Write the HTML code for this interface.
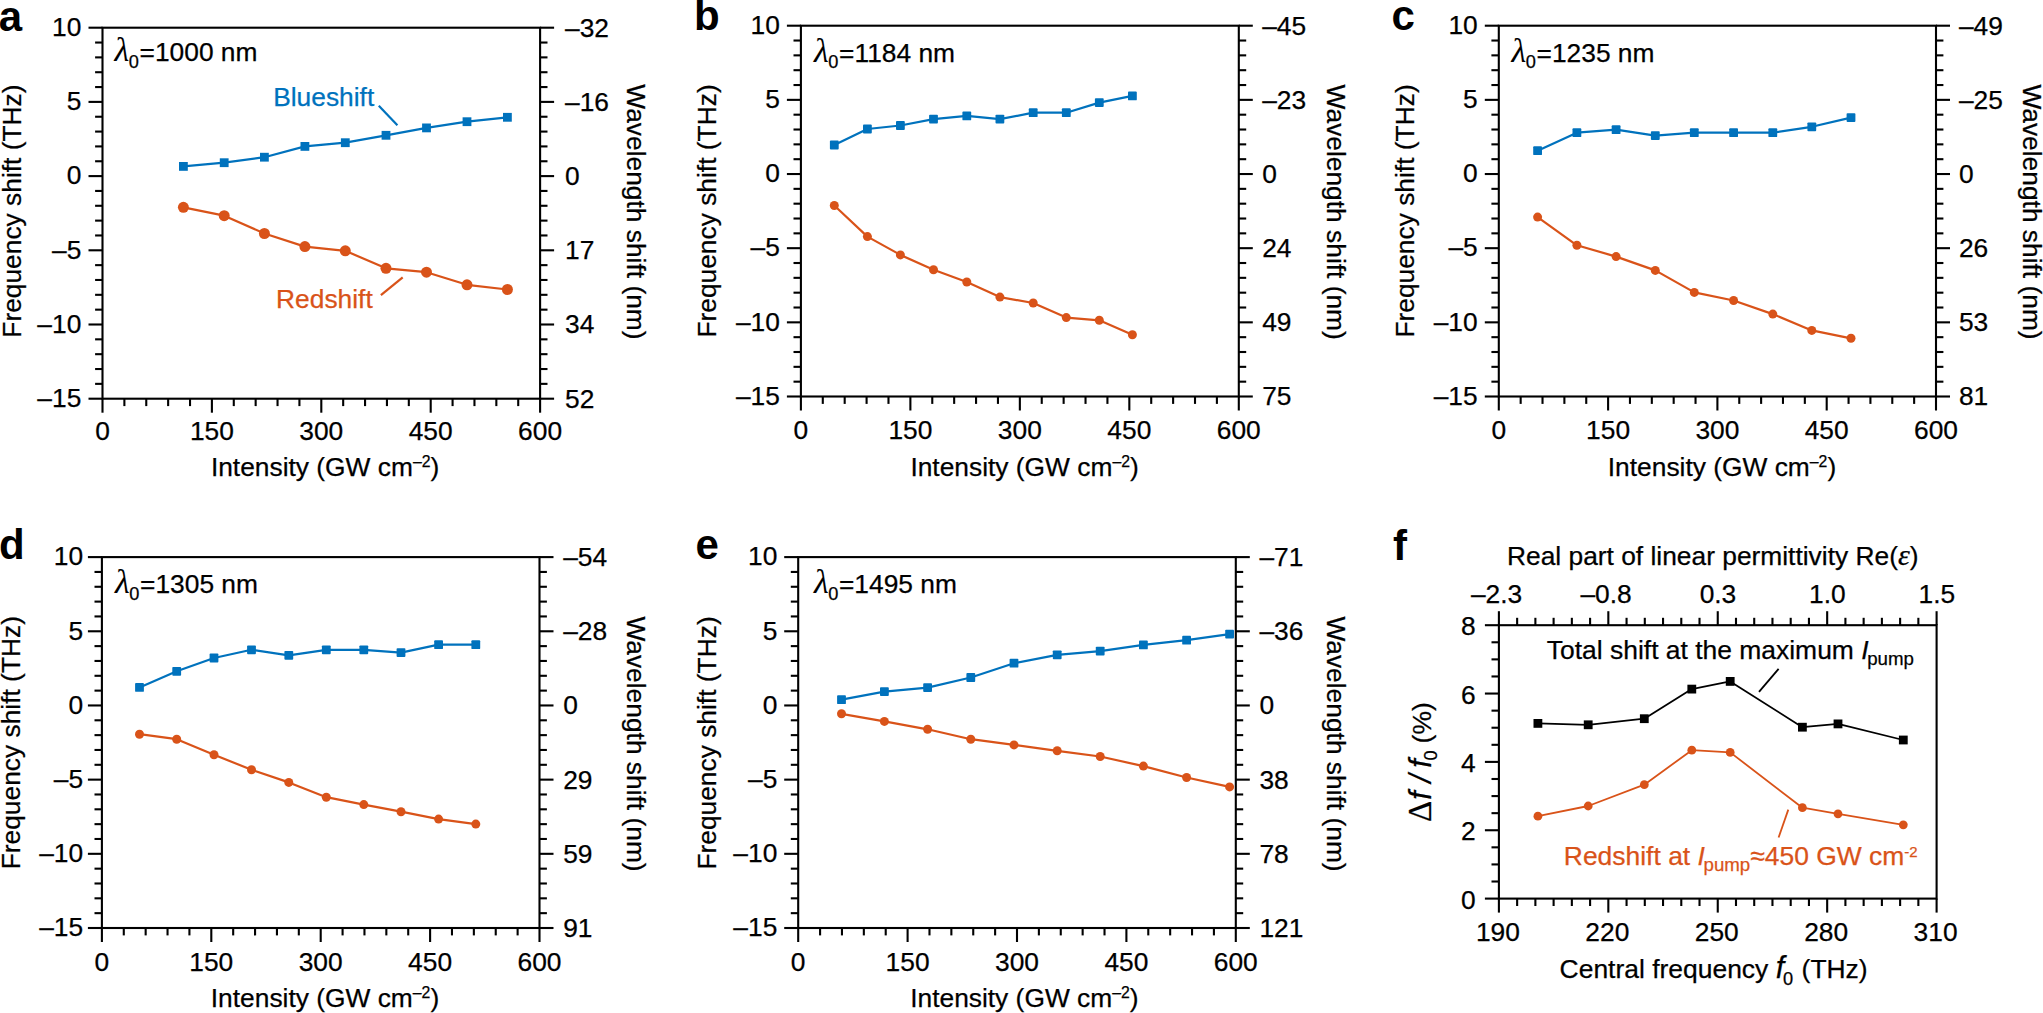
<!DOCTYPE html>
<html lang="en"><head><meta charset="utf-8"><title>Figure</title>
<style>html,body{margin:0;padding:0;background:#fff}svg{display:block}</style></head>
<body>
<svg width="2043" height="1013" viewBox="0 0 2043 1013" font-family='"Liberation Sans", sans-serif'>
<rect width="2043" height="1013" fill="#fff"/>
<rect x="102.50" y="27.70" width="437.60" height="371.00" fill="none" stroke="#000" stroke-width="2.1"/>
<line x1="88.50" y1="398.70" x2="102.50" y2="398.70" stroke="#000" stroke-width="2.1"/>
<line x1="540.10" y1="398.70" x2="554.10" y2="398.70" stroke="#000" stroke-width="2.1"/>
<line x1="95.10" y1="383.86" x2="102.50" y2="383.86" stroke="#000" stroke-width="2.1"/>
<line x1="540.10" y1="383.86" x2="547.50" y2="383.86" stroke="#000" stroke-width="2.1"/>
<line x1="95.10" y1="369.02" x2="102.50" y2="369.02" stroke="#000" stroke-width="2.1"/>
<line x1="540.10" y1="369.02" x2="547.50" y2="369.02" stroke="#000" stroke-width="2.1"/>
<line x1="95.10" y1="354.18" x2="102.50" y2="354.18" stroke="#000" stroke-width="2.1"/>
<line x1="540.10" y1="354.18" x2="547.50" y2="354.18" stroke="#000" stroke-width="2.1"/>
<line x1="95.10" y1="339.34" x2="102.50" y2="339.34" stroke="#000" stroke-width="2.1"/>
<line x1="540.10" y1="339.34" x2="547.50" y2="339.34" stroke="#000" stroke-width="2.1"/>
<line x1="88.50" y1="324.50" x2="102.50" y2="324.50" stroke="#000" stroke-width="2.1"/>
<line x1="540.10" y1="324.50" x2="554.10" y2="324.50" stroke="#000" stroke-width="2.1"/>
<line x1="95.10" y1="309.66" x2="102.50" y2="309.66" stroke="#000" stroke-width="2.1"/>
<line x1="540.10" y1="309.66" x2="547.50" y2="309.66" stroke="#000" stroke-width="2.1"/>
<line x1="95.10" y1="294.82" x2="102.50" y2="294.82" stroke="#000" stroke-width="2.1"/>
<line x1="540.10" y1="294.82" x2="547.50" y2="294.82" stroke="#000" stroke-width="2.1"/>
<line x1="95.10" y1="279.98" x2="102.50" y2="279.98" stroke="#000" stroke-width="2.1"/>
<line x1="540.10" y1="279.98" x2="547.50" y2="279.98" stroke="#000" stroke-width="2.1"/>
<line x1="95.10" y1="265.14" x2="102.50" y2="265.14" stroke="#000" stroke-width="2.1"/>
<line x1="540.10" y1="265.14" x2="547.50" y2="265.14" stroke="#000" stroke-width="2.1"/>
<line x1="88.50" y1="250.30" x2="102.50" y2="250.30" stroke="#000" stroke-width="2.1"/>
<line x1="540.10" y1="250.30" x2="554.10" y2="250.30" stroke="#000" stroke-width="2.1"/>
<line x1="95.10" y1="235.46" x2="102.50" y2="235.46" stroke="#000" stroke-width="2.1"/>
<line x1="540.10" y1="235.46" x2="547.50" y2="235.46" stroke="#000" stroke-width="2.1"/>
<line x1="95.10" y1="220.62" x2="102.50" y2="220.62" stroke="#000" stroke-width="2.1"/>
<line x1="540.10" y1="220.62" x2="547.50" y2="220.62" stroke="#000" stroke-width="2.1"/>
<line x1="95.10" y1="205.78" x2="102.50" y2="205.78" stroke="#000" stroke-width="2.1"/>
<line x1="540.10" y1="205.78" x2="547.50" y2="205.78" stroke="#000" stroke-width="2.1"/>
<line x1="95.10" y1="190.94" x2="102.50" y2="190.94" stroke="#000" stroke-width="2.1"/>
<line x1="540.10" y1="190.94" x2="547.50" y2="190.94" stroke="#000" stroke-width="2.1"/>
<line x1="88.50" y1="176.10" x2="102.50" y2="176.10" stroke="#000" stroke-width="2.1"/>
<line x1="540.10" y1="176.10" x2="554.10" y2="176.10" stroke="#000" stroke-width="2.1"/>
<line x1="95.10" y1="161.26" x2="102.50" y2="161.26" stroke="#000" stroke-width="2.1"/>
<line x1="540.10" y1="161.26" x2="547.50" y2="161.26" stroke="#000" stroke-width="2.1"/>
<line x1="95.10" y1="146.42" x2="102.50" y2="146.42" stroke="#000" stroke-width="2.1"/>
<line x1="540.10" y1="146.42" x2="547.50" y2="146.42" stroke="#000" stroke-width="2.1"/>
<line x1="95.10" y1="131.58" x2="102.50" y2="131.58" stroke="#000" stroke-width="2.1"/>
<line x1="540.10" y1="131.58" x2="547.50" y2="131.58" stroke="#000" stroke-width="2.1"/>
<line x1="95.10" y1="116.74" x2="102.50" y2="116.74" stroke="#000" stroke-width="2.1"/>
<line x1="540.10" y1="116.74" x2="547.50" y2="116.74" stroke="#000" stroke-width="2.1"/>
<line x1="88.50" y1="101.90" x2="102.50" y2="101.90" stroke="#000" stroke-width="2.1"/>
<line x1="540.10" y1="101.90" x2="554.10" y2="101.90" stroke="#000" stroke-width="2.1"/>
<line x1="95.10" y1="87.06" x2="102.50" y2="87.06" stroke="#000" stroke-width="2.1"/>
<line x1="540.10" y1="87.06" x2="547.50" y2="87.06" stroke="#000" stroke-width="2.1"/>
<line x1="95.10" y1="72.22" x2="102.50" y2="72.22" stroke="#000" stroke-width="2.1"/>
<line x1="540.10" y1="72.22" x2="547.50" y2="72.22" stroke="#000" stroke-width="2.1"/>
<line x1="95.10" y1="57.38" x2="102.50" y2="57.38" stroke="#000" stroke-width="2.1"/>
<line x1="540.10" y1="57.38" x2="547.50" y2="57.38" stroke="#000" stroke-width="2.1"/>
<line x1="95.10" y1="42.54" x2="102.50" y2="42.54" stroke="#000" stroke-width="2.1"/>
<line x1="540.10" y1="42.54" x2="547.50" y2="42.54" stroke="#000" stroke-width="2.1"/>
<line x1="88.50" y1="27.70" x2="102.50" y2="27.70" stroke="#000" stroke-width="2.1"/>
<line x1="540.10" y1="27.70" x2="554.10" y2="27.70" stroke="#000" stroke-width="2.1"/>
<line x1="102.50" y1="398.70" x2="102.50" y2="412.70" stroke="#000" stroke-width="2.1"/>
<line x1="124.38" y1="398.70" x2="124.38" y2="406.10" stroke="#000" stroke-width="2.1"/>
<line x1="146.26" y1="398.70" x2="146.26" y2="406.10" stroke="#000" stroke-width="2.1"/>
<line x1="168.14" y1="398.70" x2="168.14" y2="406.10" stroke="#000" stroke-width="2.1"/>
<line x1="190.02" y1="398.70" x2="190.02" y2="406.10" stroke="#000" stroke-width="2.1"/>
<line x1="211.90" y1="398.70" x2="211.90" y2="412.70" stroke="#000" stroke-width="2.1"/>
<line x1="233.78" y1="398.70" x2="233.78" y2="406.10" stroke="#000" stroke-width="2.1"/>
<line x1="255.66" y1="398.70" x2="255.66" y2="406.10" stroke="#000" stroke-width="2.1"/>
<line x1="277.54" y1="398.70" x2="277.54" y2="406.10" stroke="#000" stroke-width="2.1"/>
<line x1="299.42" y1="398.70" x2="299.42" y2="406.10" stroke="#000" stroke-width="2.1"/>
<line x1="321.30" y1="398.70" x2="321.30" y2="412.70" stroke="#000" stroke-width="2.1"/>
<line x1="343.18" y1="398.70" x2="343.18" y2="406.10" stroke="#000" stroke-width="2.1"/>
<line x1="365.06" y1="398.70" x2="365.06" y2="406.10" stroke="#000" stroke-width="2.1"/>
<line x1="386.94" y1="398.70" x2="386.94" y2="406.10" stroke="#000" stroke-width="2.1"/>
<line x1="408.82" y1="398.70" x2="408.82" y2="406.10" stroke="#000" stroke-width="2.1"/>
<line x1="430.70" y1="398.70" x2="430.70" y2="412.70" stroke="#000" stroke-width="2.1"/>
<line x1="452.58" y1="398.70" x2="452.58" y2="406.10" stroke="#000" stroke-width="2.1"/>
<line x1="474.46" y1="398.70" x2="474.46" y2="406.10" stroke="#000" stroke-width="2.1"/>
<line x1="496.34" y1="398.70" x2="496.34" y2="406.10" stroke="#000" stroke-width="2.1"/>
<line x1="518.22" y1="398.70" x2="518.22" y2="406.10" stroke="#000" stroke-width="2.1"/>
<line x1="540.10" y1="398.70" x2="540.10" y2="412.70" stroke="#000" stroke-width="2.1"/>
<text x="81.30" y="36.00" font-size="26.35" text-anchor="end" fill="#000" stroke="#000" stroke-width="0.25" >10</text>
<text x="81.30" y="110.20" font-size="26.35" text-anchor="end" fill="#000" stroke="#000" stroke-width="0.25" >5</text>
<text x="81.30" y="184.40" font-size="26.35" text-anchor="end" fill="#000" stroke="#000" stroke-width="0.25" >0</text>
<text x="81.30" y="258.60" font-size="26.35" text-anchor="end" fill="#000" stroke="#000" stroke-width="0.25" >–5</text>
<text x="81.30" y="332.80" font-size="26.35" text-anchor="end" fill="#000" stroke="#000" stroke-width="0.25" >–10</text>
<text x="81.30" y="407.00" font-size="26.35" text-anchor="end" fill="#000" stroke="#000" stroke-width="0.25" >–15</text>
<text x="565.00" y="36.60" font-size="26.35" text-anchor="start" fill="#000" stroke="#000" stroke-width="0.25" >–32</text>
<text x="565.00" y="110.80" font-size="26.35" text-anchor="start" fill="#000" stroke="#000" stroke-width="0.25" >–16</text>
<text x="565.00" y="185.00" font-size="26.35" text-anchor="start" fill="#000" stroke="#000" stroke-width="0.25" >0</text>
<text x="565.00" y="259.20" font-size="26.35" text-anchor="start" fill="#000" stroke="#000" stroke-width="0.25" >17</text>
<text x="565.00" y="333.40" font-size="26.35" text-anchor="start" fill="#000" stroke="#000" stroke-width="0.25" >34</text>
<text x="565.00" y="407.60" font-size="26.35" text-anchor="start" fill="#000" stroke="#000" stroke-width="0.25" >52</text>
<text x="102.50" y="440.20" font-size="26.35" text-anchor="middle" fill="#000" stroke="#000" stroke-width="0.25" >0</text>
<text x="211.90" y="440.20" font-size="26.35" text-anchor="middle" fill="#000" stroke="#000" stroke-width="0.25" >150</text>
<text x="321.30" y="440.20" font-size="26.35" text-anchor="middle" fill="#000" stroke="#000" stroke-width="0.25" >300</text>
<text x="430.70" y="440.20" font-size="26.35" text-anchor="middle" fill="#000" stroke="#000" stroke-width="0.25" >450</text>
<text x="540.10" y="440.20" font-size="26.35" text-anchor="middle" fill="#000" stroke="#000" stroke-width="0.25" >600</text>
<text x="210.90" y="475.50" font-size="26.35" text-anchor="start" fill="#000" stroke="#000" stroke-width="0.25" >Intensity (GW cm<tspan font-size="15.8" dy="-8.8">–2</tspan><tspan dy="8.8">)</tspan></text>
<text transform="translate(20.70,337.70) rotate(-90)" font-size="26.35" stroke="#000" stroke-width="0.25">Frequency shift (THz)</text>
<text transform="translate(627.20,84.30) rotate(90)" font-size="26.35" stroke="#000" stroke-width="0.25">Wavelength shift (nm)</text>
<text x="114.60" y="61.30" font-size="26.35" stroke="#000" stroke-width="0.25"><tspan font-family='"Liberation Serif", serif' font-style="italic" font-size="34" stroke-width="0">λ</tspan><tspan font-size="18.2" dy="6.6" dx="-0.5">0</tspan><tspan dy="-6.6" dx="0.6">=1000 nm</tspan></text>
<polyline points="183.4,166.4 224.2,162.7 264.4,157.2 304.9,146.4 345.3,142.7 386.0,135.3 426.5,127.9 467.0,121.7 507.4,117.3" fill="none" stroke="#0072bd" stroke-width="2.2" stroke-linejoin="round"/>
<rect x="179.00" y="162.00" width="8.8" height="8.8" rx="0" fill="#0072bd"/>
<rect x="219.80" y="158.30" width="8.8" height="8.8" rx="0" fill="#0072bd"/>
<rect x="260.00" y="152.80" width="8.8" height="8.8" rx="0" fill="#0072bd"/>
<rect x="300.50" y="142.00" width="8.8" height="8.8" rx="0" fill="#0072bd"/>
<rect x="340.90" y="138.30" width="8.8" height="8.8" rx="0" fill="#0072bd"/>
<rect x="381.60" y="130.90" width="8.8" height="8.8" rx="0" fill="#0072bd"/>
<rect x="422.10" y="123.50" width="8.8" height="8.8" rx="0" fill="#0072bd"/>
<rect x="462.60" y="117.30" width="8.8" height="8.8" rx="0" fill="#0072bd"/>
<rect x="503.00" y="112.90" width="8.8" height="8.8" rx="0" fill="#0072bd"/>
<polyline points="183.4,207.3 224.2,215.7 264.4,233.5 304.9,246.6 345.3,250.8 386.0,268.3 426.5,272.2 467.0,284.8 507.4,289.5" fill="none" stroke="#d95319" stroke-width="2.2" stroke-linejoin="round"/>
<circle cx="183.40" cy="207.30" r="5.5" fill="#d95319"/>
<circle cx="224.20" cy="215.70" r="5.5" fill="#d95319"/>
<circle cx="264.40" cy="233.50" r="5.5" fill="#d95319"/>
<circle cx="304.90" cy="246.60" r="5.5" fill="#d95319"/>
<circle cx="345.30" cy="250.80" r="5.5" fill="#d95319"/>
<circle cx="386.00" cy="268.30" r="5.5" fill="#d95319"/>
<circle cx="426.50" cy="272.20" r="5.5" fill="#d95319"/>
<circle cx="467.00" cy="284.80" r="5.5" fill="#d95319"/>
<circle cx="507.40" cy="289.50" r="5.5" fill="#d95319"/>
<rect x="800.90" y="25.70" width="437.90" height="370.80" fill="none" stroke="#000" stroke-width="2.1"/>
<line x1="786.90" y1="396.50" x2="800.90" y2="396.50" stroke="#000" stroke-width="2.1"/>
<line x1="1238.80" y1="396.50" x2="1252.80" y2="396.50" stroke="#000" stroke-width="2.1"/>
<line x1="793.50" y1="381.67" x2="800.90" y2="381.67" stroke="#000" stroke-width="2.1"/>
<line x1="1238.80" y1="381.67" x2="1246.20" y2="381.67" stroke="#000" stroke-width="2.1"/>
<line x1="793.50" y1="366.84" x2="800.90" y2="366.84" stroke="#000" stroke-width="2.1"/>
<line x1="1238.80" y1="366.84" x2="1246.20" y2="366.84" stroke="#000" stroke-width="2.1"/>
<line x1="793.50" y1="352.00" x2="800.90" y2="352.00" stroke="#000" stroke-width="2.1"/>
<line x1="1238.80" y1="352.00" x2="1246.20" y2="352.00" stroke="#000" stroke-width="2.1"/>
<line x1="793.50" y1="337.17" x2="800.90" y2="337.17" stroke="#000" stroke-width="2.1"/>
<line x1="1238.80" y1="337.17" x2="1246.20" y2="337.17" stroke="#000" stroke-width="2.1"/>
<line x1="786.90" y1="322.34" x2="800.90" y2="322.34" stroke="#000" stroke-width="2.1"/>
<line x1="1238.80" y1="322.34" x2="1252.80" y2="322.34" stroke="#000" stroke-width="2.1"/>
<line x1="793.50" y1="307.51" x2="800.90" y2="307.51" stroke="#000" stroke-width="2.1"/>
<line x1="1238.80" y1="307.51" x2="1246.20" y2="307.51" stroke="#000" stroke-width="2.1"/>
<line x1="793.50" y1="292.68" x2="800.90" y2="292.68" stroke="#000" stroke-width="2.1"/>
<line x1="1238.80" y1="292.68" x2="1246.20" y2="292.68" stroke="#000" stroke-width="2.1"/>
<line x1="793.50" y1="277.84" x2="800.90" y2="277.84" stroke="#000" stroke-width="2.1"/>
<line x1="1238.80" y1="277.84" x2="1246.20" y2="277.84" stroke="#000" stroke-width="2.1"/>
<line x1="793.50" y1="263.01" x2="800.90" y2="263.01" stroke="#000" stroke-width="2.1"/>
<line x1="1238.80" y1="263.01" x2="1246.20" y2="263.01" stroke="#000" stroke-width="2.1"/>
<line x1="786.90" y1="248.18" x2="800.90" y2="248.18" stroke="#000" stroke-width="2.1"/>
<line x1="1238.80" y1="248.18" x2="1252.80" y2="248.18" stroke="#000" stroke-width="2.1"/>
<line x1="793.50" y1="233.35" x2="800.90" y2="233.35" stroke="#000" stroke-width="2.1"/>
<line x1="1238.80" y1="233.35" x2="1246.20" y2="233.35" stroke="#000" stroke-width="2.1"/>
<line x1="793.50" y1="218.52" x2="800.90" y2="218.52" stroke="#000" stroke-width="2.1"/>
<line x1="1238.80" y1="218.52" x2="1246.20" y2="218.52" stroke="#000" stroke-width="2.1"/>
<line x1="793.50" y1="203.68" x2="800.90" y2="203.68" stroke="#000" stroke-width="2.1"/>
<line x1="1238.80" y1="203.68" x2="1246.20" y2="203.68" stroke="#000" stroke-width="2.1"/>
<line x1="793.50" y1="188.85" x2="800.90" y2="188.85" stroke="#000" stroke-width="2.1"/>
<line x1="1238.80" y1="188.85" x2="1246.20" y2="188.85" stroke="#000" stroke-width="2.1"/>
<line x1="786.90" y1="174.02" x2="800.90" y2="174.02" stroke="#000" stroke-width="2.1"/>
<line x1="1238.80" y1="174.02" x2="1252.80" y2="174.02" stroke="#000" stroke-width="2.1"/>
<line x1="793.50" y1="159.19" x2="800.90" y2="159.19" stroke="#000" stroke-width="2.1"/>
<line x1="1238.80" y1="159.19" x2="1246.20" y2="159.19" stroke="#000" stroke-width="2.1"/>
<line x1="793.50" y1="144.36" x2="800.90" y2="144.36" stroke="#000" stroke-width="2.1"/>
<line x1="1238.80" y1="144.36" x2="1246.20" y2="144.36" stroke="#000" stroke-width="2.1"/>
<line x1="793.50" y1="129.52" x2="800.90" y2="129.52" stroke="#000" stroke-width="2.1"/>
<line x1="1238.80" y1="129.52" x2="1246.20" y2="129.52" stroke="#000" stroke-width="2.1"/>
<line x1="793.50" y1="114.69" x2="800.90" y2="114.69" stroke="#000" stroke-width="2.1"/>
<line x1="1238.80" y1="114.69" x2="1246.20" y2="114.69" stroke="#000" stroke-width="2.1"/>
<line x1="786.90" y1="99.86" x2="800.90" y2="99.86" stroke="#000" stroke-width="2.1"/>
<line x1="1238.80" y1="99.86" x2="1252.80" y2="99.86" stroke="#000" stroke-width="2.1"/>
<line x1="793.50" y1="85.03" x2="800.90" y2="85.03" stroke="#000" stroke-width="2.1"/>
<line x1="1238.80" y1="85.03" x2="1246.20" y2="85.03" stroke="#000" stroke-width="2.1"/>
<line x1="793.50" y1="70.20" x2="800.90" y2="70.20" stroke="#000" stroke-width="2.1"/>
<line x1="1238.80" y1="70.20" x2="1246.20" y2="70.20" stroke="#000" stroke-width="2.1"/>
<line x1="793.50" y1="55.36" x2="800.90" y2="55.36" stroke="#000" stroke-width="2.1"/>
<line x1="1238.80" y1="55.36" x2="1246.20" y2="55.36" stroke="#000" stroke-width="2.1"/>
<line x1="793.50" y1="40.53" x2="800.90" y2="40.53" stroke="#000" stroke-width="2.1"/>
<line x1="1238.80" y1="40.53" x2="1246.20" y2="40.53" stroke="#000" stroke-width="2.1"/>
<line x1="786.90" y1="25.70" x2="800.90" y2="25.70" stroke="#000" stroke-width="2.1"/>
<line x1="1238.80" y1="25.70" x2="1252.80" y2="25.70" stroke="#000" stroke-width="2.1"/>
<line x1="800.90" y1="396.50" x2="800.90" y2="410.50" stroke="#000" stroke-width="2.1"/>
<line x1="822.79" y1="396.50" x2="822.79" y2="403.90" stroke="#000" stroke-width="2.1"/>
<line x1="844.69" y1="396.50" x2="844.69" y2="403.90" stroke="#000" stroke-width="2.1"/>
<line x1="866.59" y1="396.50" x2="866.59" y2="403.90" stroke="#000" stroke-width="2.1"/>
<line x1="888.48" y1="396.50" x2="888.48" y2="403.90" stroke="#000" stroke-width="2.1"/>
<line x1="910.38" y1="396.50" x2="910.38" y2="410.50" stroke="#000" stroke-width="2.1"/>
<line x1="932.27" y1="396.50" x2="932.27" y2="403.90" stroke="#000" stroke-width="2.1"/>
<line x1="954.16" y1="396.50" x2="954.16" y2="403.90" stroke="#000" stroke-width="2.1"/>
<line x1="976.06" y1="396.50" x2="976.06" y2="403.90" stroke="#000" stroke-width="2.1"/>
<line x1="997.95" y1="396.50" x2="997.95" y2="403.90" stroke="#000" stroke-width="2.1"/>
<line x1="1019.85" y1="396.50" x2="1019.85" y2="410.50" stroke="#000" stroke-width="2.1"/>
<line x1="1041.74" y1="396.50" x2="1041.74" y2="403.90" stroke="#000" stroke-width="2.1"/>
<line x1="1063.64" y1="396.50" x2="1063.64" y2="403.90" stroke="#000" stroke-width="2.1"/>
<line x1="1085.53" y1="396.50" x2="1085.53" y2="403.90" stroke="#000" stroke-width="2.1"/>
<line x1="1107.43" y1="396.50" x2="1107.43" y2="403.90" stroke="#000" stroke-width="2.1"/>
<line x1="1129.33" y1="396.50" x2="1129.33" y2="410.50" stroke="#000" stroke-width="2.1"/>
<line x1="1151.22" y1="396.50" x2="1151.22" y2="403.90" stroke="#000" stroke-width="2.1"/>
<line x1="1173.12" y1="396.50" x2="1173.12" y2="403.90" stroke="#000" stroke-width="2.1"/>
<line x1="1195.01" y1="396.50" x2="1195.01" y2="403.90" stroke="#000" stroke-width="2.1"/>
<line x1="1216.90" y1="396.50" x2="1216.90" y2="403.90" stroke="#000" stroke-width="2.1"/>
<line x1="1238.80" y1="396.50" x2="1238.80" y2="410.50" stroke="#000" stroke-width="2.1"/>
<text x="779.90" y="34.00" font-size="26.35" text-anchor="end" fill="#000" stroke="#000" stroke-width="0.25" >10</text>
<text x="779.90" y="108.16" font-size="26.35" text-anchor="end" fill="#000" stroke="#000" stroke-width="0.25" >5</text>
<text x="779.90" y="182.32" font-size="26.35" text-anchor="end" fill="#000" stroke="#000" stroke-width="0.25" >0</text>
<text x="779.90" y="256.48" font-size="26.35" text-anchor="end" fill="#000" stroke="#000" stroke-width="0.25" >–5</text>
<text x="779.90" y="330.64" font-size="26.35" text-anchor="end" fill="#000" stroke="#000" stroke-width="0.25" >–10</text>
<text x="779.90" y="404.80" font-size="26.35" text-anchor="end" fill="#000" stroke="#000" stroke-width="0.25" >–15</text>
<text x="1262.20" y="34.60" font-size="26.35" text-anchor="start" fill="#000" stroke="#000" stroke-width="0.25" >–45</text>
<text x="1262.20" y="108.76" font-size="26.35" text-anchor="start" fill="#000" stroke="#000" stroke-width="0.25" >–23</text>
<text x="1262.20" y="182.92" font-size="26.35" text-anchor="start" fill="#000" stroke="#000" stroke-width="0.25" >0</text>
<text x="1262.20" y="257.08" font-size="26.35" text-anchor="start" fill="#000" stroke="#000" stroke-width="0.25" >24</text>
<text x="1262.20" y="331.24" font-size="26.35" text-anchor="start" fill="#000" stroke="#000" stroke-width="0.25" >49</text>
<text x="1262.20" y="405.40" font-size="26.35" text-anchor="start" fill="#000" stroke="#000" stroke-width="0.25" >75</text>
<text x="800.90" y="438.90" font-size="26.35" text-anchor="middle" fill="#000" stroke="#000" stroke-width="0.25" >0</text>
<text x="910.38" y="438.90" font-size="26.35" text-anchor="middle" fill="#000" stroke="#000" stroke-width="0.25" >150</text>
<text x="1019.85" y="438.90" font-size="26.35" text-anchor="middle" fill="#000" stroke="#000" stroke-width="0.25" >300</text>
<text x="1129.33" y="438.90" font-size="26.35" text-anchor="middle" fill="#000" stroke="#000" stroke-width="0.25" >450</text>
<text x="1238.80" y="438.90" font-size="26.35" text-anchor="middle" fill="#000" stroke="#000" stroke-width="0.25" >600</text>
<text x="910.40" y="475.50" font-size="26.35" text-anchor="start" fill="#000" stroke="#000" stroke-width="0.25" >Intensity (GW cm<tspan font-size="15.8" dy="-8.8">–2</tspan><tspan dy="8.8">)</tspan></text>
<text transform="translate(715.80,337.60) rotate(-90)" font-size="26.35" stroke="#000" stroke-width="0.25">Frequency shift (THz)</text>
<text transform="translate(1326.90,84.60) rotate(90)" font-size="26.35" stroke="#000" stroke-width="0.25">Wavelength shift (nm)</text>
<text x="814.10" y="61.70" font-size="26.35" stroke="#000" stroke-width="0.25"><tspan font-family='"Liberation Serif", serif' font-style="italic" font-size="34" stroke-width="0">λ</tspan><tspan font-size="18.2" dy="6.6" dx="-0.5">0</tspan><tspan dy="-6.6" dx="0.6">=1184 nm</tspan></text>
<polyline points="834.3,145.0 867.4,129.0 900.4,125.5 933.5,119.1 966.8,115.9 999.9,119.1 1033.2,112.7 1066.3,112.7 1099.3,102.6 1132.4,95.9" fill="none" stroke="#0072bd" stroke-width="2.2" stroke-linejoin="round"/>
<rect x="829.90" y="140.60" width="8.8" height="8.8" rx="0.9" fill="#0072bd"/>
<rect x="863.00" y="124.60" width="8.8" height="8.8" rx="0.9" fill="#0072bd"/>
<rect x="896.00" y="121.10" width="8.8" height="8.8" rx="0.9" fill="#0072bd"/>
<rect x="929.10" y="114.70" width="8.8" height="8.8" rx="0.9" fill="#0072bd"/>
<rect x="962.40" y="111.50" width="8.8" height="8.8" rx="0.9" fill="#0072bd"/>
<rect x="995.50" y="114.70" width="8.8" height="8.8" rx="0.9" fill="#0072bd"/>
<rect x="1028.80" y="108.30" width="8.8" height="8.8" rx="0.9" fill="#0072bd"/>
<rect x="1061.90" y="108.30" width="8.8" height="8.8" rx="0.9" fill="#0072bd"/>
<rect x="1094.90" y="98.20" width="8.8" height="8.8" rx="0.9" fill="#0072bd"/>
<rect x="1128.00" y="91.50" width="8.8" height="8.8" rx="0.9" fill="#0072bd"/>
<polyline points="834.3,205.5 867.4,236.6 900.4,254.9 933.5,269.7 966.8,282.0 999.9,297.1 1033.2,303.0 1066.3,317.6 1099.3,320.3 1132.4,334.8" fill="none" stroke="#d95319" stroke-width="2.2" stroke-linejoin="round"/>
<circle cx="834.30" cy="205.50" r="4.5" fill="#d95319"/>
<circle cx="867.40" cy="236.60" r="4.5" fill="#d95319"/>
<circle cx="900.40" cy="254.90" r="4.5" fill="#d95319"/>
<circle cx="933.50" cy="269.70" r="4.5" fill="#d95319"/>
<circle cx="966.80" cy="282.00" r="4.5" fill="#d95319"/>
<circle cx="999.90" cy="297.10" r="4.5" fill="#d95319"/>
<circle cx="1033.20" cy="303.00" r="4.5" fill="#d95319"/>
<circle cx="1066.30" cy="317.60" r="4.5" fill="#d95319"/>
<circle cx="1099.30" cy="320.30" r="4.5" fill="#d95319"/>
<circle cx="1132.40" cy="334.80" r="4.5" fill="#d95319"/>
<rect x="1498.80" y="25.70" width="437.20" height="370.80" fill="none" stroke="#000" stroke-width="2.1"/>
<line x1="1484.80" y1="396.50" x2="1498.80" y2="396.50" stroke="#000" stroke-width="2.1"/>
<line x1="1936.00" y1="396.50" x2="1950.00" y2="396.50" stroke="#000" stroke-width="2.1"/>
<line x1="1491.40" y1="381.67" x2="1498.80" y2="381.67" stroke="#000" stroke-width="2.1"/>
<line x1="1936.00" y1="381.67" x2="1943.40" y2="381.67" stroke="#000" stroke-width="2.1"/>
<line x1="1491.40" y1="366.84" x2="1498.80" y2="366.84" stroke="#000" stroke-width="2.1"/>
<line x1="1936.00" y1="366.84" x2="1943.40" y2="366.84" stroke="#000" stroke-width="2.1"/>
<line x1="1491.40" y1="352.00" x2="1498.80" y2="352.00" stroke="#000" stroke-width="2.1"/>
<line x1="1936.00" y1="352.00" x2="1943.40" y2="352.00" stroke="#000" stroke-width="2.1"/>
<line x1="1491.40" y1="337.17" x2="1498.80" y2="337.17" stroke="#000" stroke-width="2.1"/>
<line x1="1936.00" y1="337.17" x2="1943.40" y2="337.17" stroke="#000" stroke-width="2.1"/>
<line x1="1484.80" y1="322.34" x2="1498.80" y2="322.34" stroke="#000" stroke-width="2.1"/>
<line x1="1936.00" y1="322.34" x2="1950.00" y2="322.34" stroke="#000" stroke-width="2.1"/>
<line x1="1491.40" y1="307.51" x2="1498.80" y2="307.51" stroke="#000" stroke-width="2.1"/>
<line x1="1936.00" y1="307.51" x2="1943.40" y2="307.51" stroke="#000" stroke-width="2.1"/>
<line x1="1491.40" y1="292.68" x2="1498.80" y2="292.68" stroke="#000" stroke-width="2.1"/>
<line x1="1936.00" y1="292.68" x2="1943.40" y2="292.68" stroke="#000" stroke-width="2.1"/>
<line x1="1491.40" y1="277.84" x2="1498.80" y2="277.84" stroke="#000" stroke-width="2.1"/>
<line x1="1936.00" y1="277.84" x2="1943.40" y2="277.84" stroke="#000" stroke-width="2.1"/>
<line x1="1491.40" y1="263.01" x2="1498.80" y2="263.01" stroke="#000" stroke-width="2.1"/>
<line x1="1936.00" y1="263.01" x2="1943.40" y2="263.01" stroke="#000" stroke-width="2.1"/>
<line x1="1484.80" y1="248.18" x2="1498.80" y2="248.18" stroke="#000" stroke-width="2.1"/>
<line x1="1936.00" y1="248.18" x2="1950.00" y2="248.18" stroke="#000" stroke-width="2.1"/>
<line x1="1491.40" y1="233.35" x2="1498.80" y2="233.35" stroke="#000" stroke-width="2.1"/>
<line x1="1936.00" y1="233.35" x2="1943.40" y2="233.35" stroke="#000" stroke-width="2.1"/>
<line x1="1491.40" y1="218.52" x2="1498.80" y2="218.52" stroke="#000" stroke-width="2.1"/>
<line x1="1936.00" y1="218.52" x2="1943.40" y2="218.52" stroke="#000" stroke-width="2.1"/>
<line x1="1491.40" y1="203.68" x2="1498.80" y2="203.68" stroke="#000" stroke-width="2.1"/>
<line x1="1936.00" y1="203.68" x2="1943.40" y2="203.68" stroke="#000" stroke-width="2.1"/>
<line x1="1491.40" y1="188.85" x2="1498.80" y2="188.85" stroke="#000" stroke-width="2.1"/>
<line x1="1936.00" y1="188.85" x2="1943.40" y2="188.85" stroke="#000" stroke-width="2.1"/>
<line x1="1484.80" y1="174.02" x2="1498.80" y2="174.02" stroke="#000" stroke-width="2.1"/>
<line x1="1936.00" y1="174.02" x2="1950.00" y2="174.02" stroke="#000" stroke-width="2.1"/>
<line x1="1491.40" y1="159.19" x2="1498.80" y2="159.19" stroke="#000" stroke-width="2.1"/>
<line x1="1936.00" y1="159.19" x2="1943.40" y2="159.19" stroke="#000" stroke-width="2.1"/>
<line x1="1491.40" y1="144.36" x2="1498.80" y2="144.36" stroke="#000" stroke-width="2.1"/>
<line x1="1936.00" y1="144.36" x2="1943.40" y2="144.36" stroke="#000" stroke-width="2.1"/>
<line x1="1491.40" y1="129.52" x2="1498.80" y2="129.52" stroke="#000" stroke-width="2.1"/>
<line x1="1936.00" y1="129.52" x2="1943.40" y2="129.52" stroke="#000" stroke-width="2.1"/>
<line x1="1491.40" y1="114.69" x2="1498.80" y2="114.69" stroke="#000" stroke-width="2.1"/>
<line x1="1936.00" y1="114.69" x2="1943.40" y2="114.69" stroke="#000" stroke-width="2.1"/>
<line x1="1484.80" y1="99.86" x2="1498.80" y2="99.86" stroke="#000" stroke-width="2.1"/>
<line x1="1936.00" y1="99.86" x2="1950.00" y2="99.86" stroke="#000" stroke-width="2.1"/>
<line x1="1491.40" y1="85.03" x2="1498.80" y2="85.03" stroke="#000" stroke-width="2.1"/>
<line x1="1936.00" y1="85.03" x2="1943.40" y2="85.03" stroke="#000" stroke-width="2.1"/>
<line x1="1491.40" y1="70.20" x2="1498.80" y2="70.20" stroke="#000" stroke-width="2.1"/>
<line x1="1936.00" y1="70.20" x2="1943.40" y2="70.20" stroke="#000" stroke-width="2.1"/>
<line x1="1491.40" y1="55.36" x2="1498.80" y2="55.36" stroke="#000" stroke-width="2.1"/>
<line x1="1936.00" y1="55.36" x2="1943.40" y2="55.36" stroke="#000" stroke-width="2.1"/>
<line x1="1491.40" y1="40.53" x2="1498.80" y2="40.53" stroke="#000" stroke-width="2.1"/>
<line x1="1936.00" y1="40.53" x2="1943.40" y2="40.53" stroke="#000" stroke-width="2.1"/>
<line x1="1484.80" y1="25.70" x2="1498.80" y2="25.70" stroke="#000" stroke-width="2.1"/>
<line x1="1936.00" y1="25.70" x2="1950.00" y2="25.70" stroke="#000" stroke-width="2.1"/>
<line x1="1498.80" y1="396.50" x2="1498.80" y2="410.50" stroke="#000" stroke-width="2.1"/>
<line x1="1520.66" y1="396.50" x2="1520.66" y2="403.90" stroke="#000" stroke-width="2.1"/>
<line x1="1542.52" y1="396.50" x2="1542.52" y2="403.90" stroke="#000" stroke-width="2.1"/>
<line x1="1564.38" y1="396.50" x2="1564.38" y2="403.90" stroke="#000" stroke-width="2.1"/>
<line x1="1586.24" y1="396.50" x2="1586.24" y2="403.90" stroke="#000" stroke-width="2.1"/>
<line x1="1608.10" y1="396.50" x2="1608.10" y2="410.50" stroke="#000" stroke-width="2.1"/>
<line x1="1629.96" y1="396.50" x2="1629.96" y2="403.90" stroke="#000" stroke-width="2.1"/>
<line x1="1651.82" y1="396.50" x2="1651.82" y2="403.90" stroke="#000" stroke-width="2.1"/>
<line x1="1673.68" y1="396.50" x2="1673.68" y2="403.90" stroke="#000" stroke-width="2.1"/>
<line x1="1695.54" y1="396.50" x2="1695.54" y2="403.90" stroke="#000" stroke-width="2.1"/>
<line x1="1717.40" y1="396.50" x2="1717.40" y2="410.50" stroke="#000" stroke-width="2.1"/>
<line x1="1739.26" y1="396.50" x2="1739.26" y2="403.90" stroke="#000" stroke-width="2.1"/>
<line x1="1761.12" y1="396.50" x2="1761.12" y2="403.90" stroke="#000" stroke-width="2.1"/>
<line x1="1782.98" y1="396.50" x2="1782.98" y2="403.90" stroke="#000" stroke-width="2.1"/>
<line x1="1804.84" y1="396.50" x2="1804.84" y2="403.90" stroke="#000" stroke-width="2.1"/>
<line x1="1826.70" y1="396.50" x2="1826.70" y2="410.50" stroke="#000" stroke-width="2.1"/>
<line x1="1848.56" y1="396.50" x2="1848.56" y2="403.90" stroke="#000" stroke-width="2.1"/>
<line x1="1870.42" y1="396.50" x2="1870.42" y2="403.90" stroke="#000" stroke-width="2.1"/>
<line x1="1892.28" y1="396.50" x2="1892.28" y2="403.90" stroke="#000" stroke-width="2.1"/>
<line x1="1914.14" y1="396.50" x2="1914.14" y2="403.90" stroke="#000" stroke-width="2.1"/>
<line x1="1936.00" y1="396.50" x2="1936.00" y2="410.50" stroke="#000" stroke-width="2.1"/>
<text x="1477.70" y="34.00" font-size="26.35" text-anchor="end" fill="#000" stroke="#000" stroke-width="0.25" >10</text>
<text x="1477.70" y="108.16" font-size="26.35" text-anchor="end" fill="#000" stroke="#000" stroke-width="0.25" >5</text>
<text x="1477.70" y="182.32" font-size="26.35" text-anchor="end" fill="#000" stroke="#000" stroke-width="0.25" >0</text>
<text x="1477.70" y="256.48" font-size="26.35" text-anchor="end" fill="#000" stroke="#000" stroke-width="0.25" >–5</text>
<text x="1477.70" y="330.64" font-size="26.35" text-anchor="end" fill="#000" stroke="#000" stroke-width="0.25" >–10</text>
<text x="1477.70" y="404.80" font-size="26.35" text-anchor="end" fill="#000" stroke="#000" stroke-width="0.25" >–15</text>
<text x="1958.90" y="34.60" font-size="26.35" text-anchor="start" fill="#000" stroke="#000" stroke-width="0.25" >–49</text>
<text x="1958.90" y="108.76" font-size="26.35" text-anchor="start" fill="#000" stroke="#000" stroke-width="0.25" >–25</text>
<text x="1958.90" y="182.92" font-size="26.35" text-anchor="start" fill="#000" stroke="#000" stroke-width="0.25" >0</text>
<text x="1958.90" y="257.08" font-size="26.35" text-anchor="start" fill="#000" stroke="#000" stroke-width="0.25" >26</text>
<text x="1958.90" y="331.24" font-size="26.35" text-anchor="start" fill="#000" stroke="#000" stroke-width="0.25" >53</text>
<text x="1958.90" y="405.40" font-size="26.35" text-anchor="start" fill="#000" stroke="#000" stroke-width="0.25" >81</text>
<text x="1498.80" y="438.90" font-size="26.35" text-anchor="middle" fill="#000" stroke="#000" stroke-width="0.25" >0</text>
<text x="1608.10" y="438.90" font-size="26.35" text-anchor="middle" fill="#000" stroke="#000" stroke-width="0.25" >150</text>
<text x="1717.40" y="438.90" font-size="26.35" text-anchor="middle" fill="#000" stroke="#000" stroke-width="0.25" >300</text>
<text x="1826.70" y="438.90" font-size="26.35" text-anchor="middle" fill="#000" stroke="#000" stroke-width="0.25" >450</text>
<text x="1936.00" y="438.90" font-size="26.35" text-anchor="middle" fill="#000" stroke="#000" stroke-width="0.25" >600</text>
<text x="1607.80" y="475.50" font-size="26.35" text-anchor="start" fill="#000" stroke="#000" stroke-width="0.25" >Intensity (GW cm<tspan font-size="15.8" dy="-8.8">–2</tspan><tspan dy="8.8">)</tspan></text>
<text transform="translate(1413.80,337.60) rotate(-90)" font-size="26.35" stroke="#000" stroke-width="0.25">Frequency shift (THz)</text>
<text transform="translate(2023.10,84.40) rotate(90)" font-size="26.35" stroke="#000" stroke-width="0.25">Wavelength shift (nm)</text>
<text x="1511.60" y="61.70" font-size="26.35" stroke="#000" stroke-width="0.25"><tspan font-family='"Liberation Serif", serif' font-style="italic" font-size="34" stroke-width="0">λ</tspan><tspan font-size="18.2" dy="6.6" dx="-0.5">0</tspan><tspan dy="-6.6" dx="0.6">=1235 nm</tspan></text>
<polyline points="1537.6,150.7 1576.9,132.7 1616.1,129.7 1655.3,135.6 1694.3,132.7 1733.6,132.7 1772.8,132.7 1811.8,126.8 1851.0,117.6" fill="none" stroke="#0072bd" stroke-width="2.2" stroke-linejoin="round"/>
<rect x="1533.20" y="146.30" width="8.8" height="8.8" rx="0.9" fill="#0072bd"/>
<rect x="1572.50" y="128.30" width="8.8" height="8.8" rx="0.9" fill="#0072bd"/>
<rect x="1611.70" y="125.30" width="8.8" height="8.8" rx="0.9" fill="#0072bd"/>
<rect x="1650.90" y="131.20" width="8.8" height="8.8" rx="0.9" fill="#0072bd"/>
<rect x="1689.90" y="128.30" width="8.8" height="8.8" rx="0.9" fill="#0072bd"/>
<rect x="1729.20" y="128.30" width="8.8" height="8.8" rx="0.9" fill="#0072bd"/>
<rect x="1768.40" y="128.30" width="8.8" height="8.8" rx="0.9" fill="#0072bd"/>
<rect x="1807.40" y="122.40" width="8.8" height="8.8" rx="0.9" fill="#0072bd"/>
<rect x="1846.60" y="113.20" width="8.8" height="8.8" rx="0.9" fill="#0072bd"/>
<polyline points="1537.6,217.1 1576.9,245.3 1616.1,256.6 1655.3,270.4 1694.3,292.4 1733.6,300.5 1772.8,314.1 1811.8,330.4 1851.0,338.3" fill="none" stroke="#d95319" stroke-width="2.2" stroke-linejoin="round"/>
<circle cx="1537.60" cy="217.10" r="4.5" fill="#d95319"/>
<circle cx="1576.90" cy="245.30" r="4.5" fill="#d95319"/>
<circle cx="1616.10" cy="256.60" r="4.5" fill="#d95319"/>
<circle cx="1655.30" cy="270.40" r="4.5" fill="#d95319"/>
<circle cx="1694.30" cy="292.40" r="4.5" fill="#d95319"/>
<circle cx="1733.60" cy="300.50" r="4.5" fill="#d95319"/>
<circle cx="1772.80" cy="314.10" r="4.5" fill="#d95319"/>
<circle cx="1811.80" cy="330.40" r="4.5" fill="#d95319"/>
<circle cx="1851.00" cy="338.30" r="4.5" fill="#d95319"/>
<rect x="101.90" y="557.10" width="437.60" height="370.90" fill="none" stroke="#000" stroke-width="2.1"/>
<line x1="87.90" y1="928.00" x2="101.90" y2="928.00" stroke="#000" stroke-width="2.1"/>
<line x1="539.50" y1="928.00" x2="553.50" y2="928.00" stroke="#000" stroke-width="2.1"/>
<line x1="94.50" y1="913.16" x2="101.90" y2="913.16" stroke="#000" stroke-width="2.1"/>
<line x1="539.50" y1="913.16" x2="546.90" y2="913.16" stroke="#000" stroke-width="2.1"/>
<line x1="94.50" y1="898.33" x2="101.90" y2="898.33" stroke="#000" stroke-width="2.1"/>
<line x1="539.50" y1="898.33" x2="546.90" y2="898.33" stroke="#000" stroke-width="2.1"/>
<line x1="94.50" y1="883.49" x2="101.90" y2="883.49" stroke="#000" stroke-width="2.1"/>
<line x1="539.50" y1="883.49" x2="546.90" y2="883.49" stroke="#000" stroke-width="2.1"/>
<line x1="94.50" y1="868.66" x2="101.90" y2="868.66" stroke="#000" stroke-width="2.1"/>
<line x1="539.50" y1="868.66" x2="546.90" y2="868.66" stroke="#000" stroke-width="2.1"/>
<line x1="87.90" y1="853.82" x2="101.90" y2="853.82" stroke="#000" stroke-width="2.1"/>
<line x1="539.50" y1="853.82" x2="553.50" y2="853.82" stroke="#000" stroke-width="2.1"/>
<line x1="94.50" y1="838.98" x2="101.90" y2="838.98" stroke="#000" stroke-width="2.1"/>
<line x1="539.50" y1="838.98" x2="546.90" y2="838.98" stroke="#000" stroke-width="2.1"/>
<line x1="94.50" y1="824.15" x2="101.90" y2="824.15" stroke="#000" stroke-width="2.1"/>
<line x1="539.50" y1="824.15" x2="546.90" y2="824.15" stroke="#000" stroke-width="2.1"/>
<line x1="94.50" y1="809.31" x2="101.90" y2="809.31" stroke="#000" stroke-width="2.1"/>
<line x1="539.50" y1="809.31" x2="546.90" y2="809.31" stroke="#000" stroke-width="2.1"/>
<line x1="94.50" y1="794.48" x2="101.90" y2="794.48" stroke="#000" stroke-width="2.1"/>
<line x1="539.50" y1="794.48" x2="546.90" y2="794.48" stroke="#000" stroke-width="2.1"/>
<line x1="87.90" y1="779.64" x2="101.90" y2="779.64" stroke="#000" stroke-width="2.1"/>
<line x1="539.50" y1="779.64" x2="553.50" y2="779.64" stroke="#000" stroke-width="2.1"/>
<line x1="94.50" y1="764.80" x2="101.90" y2="764.80" stroke="#000" stroke-width="2.1"/>
<line x1="539.50" y1="764.80" x2="546.90" y2="764.80" stroke="#000" stroke-width="2.1"/>
<line x1="94.50" y1="749.97" x2="101.90" y2="749.97" stroke="#000" stroke-width="2.1"/>
<line x1="539.50" y1="749.97" x2="546.90" y2="749.97" stroke="#000" stroke-width="2.1"/>
<line x1="94.50" y1="735.13" x2="101.90" y2="735.13" stroke="#000" stroke-width="2.1"/>
<line x1="539.50" y1="735.13" x2="546.90" y2="735.13" stroke="#000" stroke-width="2.1"/>
<line x1="94.50" y1="720.30" x2="101.90" y2="720.30" stroke="#000" stroke-width="2.1"/>
<line x1="539.50" y1="720.30" x2="546.90" y2="720.30" stroke="#000" stroke-width="2.1"/>
<line x1="87.90" y1="705.46" x2="101.90" y2="705.46" stroke="#000" stroke-width="2.1"/>
<line x1="539.50" y1="705.46" x2="553.50" y2="705.46" stroke="#000" stroke-width="2.1"/>
<line x1="94.50" y1="690.62" x2="101.90" y2="690.62" stroke="#000" stroke-width="2.1"/>
<line x1="539.50" y1="690.62" x2="546.90" y2="690.62" stroke="#000" stroke-width="2.1"/>
<line x1="94.50" y1="675.79" x2="101.90" y2="675.79" stroke="#000" stroke-width="2.1"/>
<line x1="539.50" y1="675.79" x2="546.90" y2="675.79" stroke="#000" stroke-width="2.1"/>
<line x1="94.50" y1="660.95" x2="101.90" y2="660.95" stroke="#000" stroke-width="2.1"/>
<line x1="539.50" y1="660.95" x2="546.90" y2="660.95" stroke="#000" stroke-width="2.1"/>
<line x1="94.50" y1="646.12" x2="101.90" y2="646.12" stroke="#000" stroke-width="2.1"/>
<line x1="539.50" y1="646.12" x2="546.90" y2="646.12" stroke="#000" stroke-width="2.1"/>
<line x1="87.90" y1="631.28" x2="101.90" y2="631.28" stroke="#000" stroke-width="2.1"/>
<line x1="539.50" y1="631.28" x2="553.50" y2="631.28" stroke="#000" stroke-width="2.1"/>
<line x1="94.50" y1="616.44" x2="101.90" y2="616.44" stroke="#000" stroke-width="2.1"/>
<line x1="539.50" y1="616.44" x2="546.90" y2="616.44" stroke="#000" stroke-width="2.1"/>
<line x1="94.50" y1="601.61" x2="101.90" y2="601.61" stroke="#000" stroke-width="2.1"/>
<line x1="539.50" y1="601.61" x2="546.90" y2="601.61" stroke="#000" stroke-width="2.1"/>
<line x1="94.50" y1="586.77" x2="101.90" y2="586.77" stroke="#000" stroke-width="2.1"/>
<line x1="539.50" y1="586.77" x2="546.90" y2="586.77" stroke="#000" stroke-width="2.1"/>
<line x1="94.50" y1="571.94" x2="101.90" y2="571.94" stroke="#000" stroke-width="2.1"/>
<line x1="539.50" y1="571.94" x2="546.90" y2="571.94" stroke="#000" stroke-width="2.1"/>
<line x1="87.90" y1="557.10" x2="101.90" y2="557.10" stroke="#000" stroke-width="2.1"/>
<line x1="539.50" y1="557.10" x2="553.50" y2="557.10" stroke="#000" stroke-width="2.1"/>
<line x1="101.90" y1="928.00" x2="101.90" y2="942.00" stroke="#000" stroke-width="2.1"/>
<line x1="123.78" y1="928.00" x2="123.78" y2="935.40" stroke="#000" stroke-width="2.1"/>
<line x1="145.66" y1="928.00" x2="145.66" y2="935.40" stroke="#000" stroke-width="2.1"/>
<line x1="167.54" y1="928.00" x2="167.54" y2="935.40" stroke="#000" stroke-width="2.1"/>
<line x1="189.42" y1="928.00" x2="189.42" y2="935.40" stroke="#000" stroke-width="2.1"/>
<line x1="211.30" y1="928.00" x2="211.30" y2="942.00" stroke="#000" stroke-width="2.1"/>
<line x1="233.18" y1="928.00" x2="233.18" y2="935.40" stroke="#000" stroke-width="2.1"/>
<line x1="255.06" y1="928.00" x2="255.06" y2="935.40" stroke="#000" stroke-width="2.1"/>
<line x1="276.94" y1="928.00" x2="276.94" y2="935.40" stroke="#000" stroke-width="2.1"/>
<line x1="298.82" y1="928.00" x2="298.82" y2="935.40" stroke="#000" stroke-width="2.1"/>
<line x1="320.70" y1="928.00" x2="320.70" y2="942.00" stroke="#000" stroke-width="2.1"/>
<line x1="342.58" y1="928.00" x2="342.58" y2="935.40" stroke="#000" stroke-width="2.1"/>
<line x1="364.46" y1="928.00" x2="364.46" y2="935.40" stroke="#000" stroke-width="2.1"/>
<line x1="386.34" y1="928.00" x2="386.34" y2="935.40" stroke="#000" stroke-width="2.1"/>
<line x1="408.22" y1="928.00" x2="408.22" y2="935.40" stroke="#000" stroke-width="2.1"/>
<line x1="430.10" y1="928.00" x2="430.10" y2="942.00" stroke="#000" stroke-width="2.1"/>
<line x1="451.98" y1="928.00" x2="451.98" y2="935.40" stroke="#000" stroke-width="2.1"/>
<line x1="473.86" y1="928.00" x2="473.86" y2="935.40" stroke="#000" stroke-width="2.1"/>
<line x1="495.74" y1="928.00" x2="495.74" y2="935.40" stroke="#000" stroke-width="2.1"/>
<line x1="517.62" y1="928.00" x2="517.62" y2="935.40" stroke="#000" stroke-width="2.1"/>
<line x1="539.50" y1="928.00" x2="539.50" y2="942.00" stroke="#000" stroke-width="2.1"/>
<text x="83.10" y="565.40" font-size="26.35" text-anchor="end" fill="#000" stroke="#000" stroke-width="0.25" >10</text>
<text x="83.10" y="639.58" font-size="26.35" text-anchor="end" fill="#000" stroke="#000" stroke-width="0.25" >5</text>
<text x="83.10" y="713.76" font-size="26.35" text-anchor="end" fill="#000" stroke="#000" stroke-width="0.25" >0</text>
<text x="83.10" y="787.94" font-size="26.35" text-anchor="end" fill="#000" stroke="#000" stroke-width="0.25" >–5</text>
<text x="83.10" y="862.12" font-size="26.35" text-anchor="end" fill="#000" stroke="#000" stroke-width="0.25" >–10</text>
<text x="83.10" y="936.30" font-size="26.35" text-anchor="end" fill="#000" stroke="#000" stroke-width="0.25" >–15</text>
<text x="563.20" y="566.00" font-size="26.35" text-anchor="start" fill="#000" stroke="#000" stroke-width="0.25" >–54</text>
<text x="563.20" y="640.18" font-size="26.35" text-anchor="start" fill="#000" stroke="#000" stroke-width="0.25" >–28</text>
<text x="563.20" y="714.36" font-size="26.35" text-anchor="start" fill="#000" stroke="#000" stroke-width="0.25" >0</text>
<text x="563.20" y="788.54" font-size="26.35" text-anchor="start" fill="#000" stroke="#000" stroke-width="0.25" >29</text>
<text x="563.20" y="862.72" font-size="26.35" text-anchor="start" fill="#000" stroke="#000" stroke-width="0.25" >59</text>
<text x="563.20" y="936.90" font-size="26.35" text-anchor="start" fill="#000" stroke="#000" stroke-width="0.25" >91</text>
<text x="101.90" y="970.80" font-size="26.35" text-anchor="middle" fill="#000" stroke="#000" stroke-width="0.25" >0</text>
<text x="211.30" y="970.80" font-size="26.35" text-anchor="middle" fill="#000" stroke="#000" stroke-width="0.25" >150</text>
<text x="320.70" y="970.80" font-size="26.35" text-anchor="middle" fill="#000" stroke="#000" stroke-width="0.25" >300</text>
<text x="430.10" y="970.80" font-size="26.35" text-anchor="middle" fill="#000" stroke="#000" stroke-width="0.25" >450</text>
<text x="539.50" y="970.80" font-size="26.35" text-anchor="middle" fill="#000" stroke="#000" stroke-width="0.25" >600</text>
<text x="210.80" y="1006.60" font-size="26.35" text-anchor="start" fill="#000" stroke="#000" stroke-width="0.25" >Intensity (GW cm<tspan font-size="15.8" dy="-8.8">–2</tspan><tspan dy="8.8">)</tspan></text>
<text transform="translate(19.50,869.30) rotate(-90)" font-size="26.35" stroke="#000" stroke-width="0.25">Frequency shift (THz)</text>
<text transform="translate(627.10,616.40) rotate(90)" font-size="26.35" stroke="#000" stroke-width="0.25">Wavelength shift (nm)</text>
<text x="115.10" y="593.00" font-size="26.35" stroke="#000" stroke-width="0.25"><tspan font-family='"Liberation Serif", serif' font-style="italic" font-size="34" stroke-width="0">λ</tspan><tspan font-size="18.2" dy="6.6" dx="-0.5">0</tspan><tspan dy="-6.6" dx="0.6">=1305 nm</tspan></text>
<polyline points="139.5,687.4 176.7,671.3 214.0,658.0 251.5,649.8 288.8,655.3 326.3,649.8 363.8,649.8 401.0,652.6 438.6,644.7 475.8,644.7" fill="none" stroke="#0072bd" stroke-width="2.2" stroke-linejoin="round"/>
<rect x="135.10" y="683.00" width="8.8" height="8.8" rx="0.9" fill="#0072bd"/>
<rect x="172.30" y="666.90" width="8.8" height="8.8" rx="0.9" fill="#0072bd"/>
<rect x="209.60" y="653.60" width="8.8" height="8.8" rx="0.9" fill="#0072bd"/>
<rect x="247.10" y="645.40" width="8.8" height="8.8" rx="0.9" fill="#0072bd"/>
<rect x="284.40" y="650.90" width="8.8" height="8.8" rx="0.9" fill="#0072bd"/>
<rect x="321.90" y="645.40" width="8.8" height="8.8" rx="0.9" fill="#0072bd"/>
<rect x="359.40" y="645.40" width="8.8" height="8.8" rx="0.9" fill="#0072bd"/>
<rect x="396.60" y="648.20" width="8.8" height="8.8" rx="0.9" fill="#0072bd"/>
<rect x="434.20" y="640.30" width="8.8" height="8.8" rx="0.9" fill="#0072bd"/>
<rect x="471.40" y="640.30" width="8.8" height="8.8" rx="0.9" fill="#0072bd"/>
<polyline points="139.5,734.2 176.7,739.2 214.0,754.7 251.5,769.8 288.8,782.4 326.3,797.2 363.8,804.6 401.0,811.7 438.6,819.1 475.8,824.1" fill="none" stroke="#d95319" stroke-width="2.2" stroke-linejoin="round"/>
<circle cx="139.50" cy="734.20" r="4.5" fill="#d95319"/>
<circle cx="176.70" cy="739.20" r="4.5" fill="#d95319"/>
<circle cx="214.00" cy="754.70" r="4.5" fill="#d95319"/>
<circle cx="251.50" cy="769.80" r="4.5" fill="#d95319"/>
<circle cx="288.80" cy="782.40" r="4.5" fill="#d95319"/>
<circle cx="326.30" cy="797.20" r="4.5" fill="#d95319"/>
<circle cx="363.80" cy="804.60" r="4.5" fill="#d95319"/>
<circle cx="401.00" cy="811.70" r="4.5" fill="#d95319"/>
<circle cx="438.60" cy="819.10" r="4.5" fill="#d95319"/>
<circle cx="475.80" cy="824.10" r="4.5" fill="#d95319"/>
<rect x="798.20" y="557.10" width="437.60" height="370.90" fill="none" stroke="#000" stroke-width="2.1"/>
<line x1="784.20" y1="928.00" x2="798.20" y2="928.00" stroke="#000" stroke-width="2.1"/>
<line x1="1235.80" y1="928.00" x2="1249.80" y2="928.00" stroke="#000" stroke-width="2.1"/>
<line x1="790.80" y1="913.16" x2="798.20" y2="913.16" stroke="#000" stroke-width="2.1"/>
<line x1="1235.80" y1="913.16" x2="1243.20" y2="913.16" stroke="#000" stroke-width="2.1"/>
<line x1="790.80" y1="898.33" x2="798.20" y2="898.33" stroke="#000" stroke-width="2.1"/>
<line x1="1235.80" y1="898.33" x2="1243.20" y2="898.33" stroke="#000" stroke-width="2.1"/>
<line x1="790.80" y1="883.49" x2="798.20" y2="883.49" stroke="#000" stroke-width="2.1"/>
<line x1="1235.80" y1="883.49" x2="1243.20" y2="883.49" stroke="#000" stroke-width="2.1"/>
<line x1="790.80" y1="868.66" x2="798.20" y2="868.66" stroke="#000" stroke-width="2.1"/>
<line x1="1235.80" y1="868.66" x2="1243.20" y2="868.66" stroke="#000" stroke-width="2.1"/>
<line x1="784.20" y1="853.82" x2="798.20" y2="853.82" stroke="#000" stroke-width="2.1"/>
<line x1="1235.80" y1="853.82" x2="1249.80" y2="853.82" stroke="#000" stroke-width="2.1"/>
<line x1="790.80" y1="838.98" x2="798.20" y2="838.98" stroke="#000" stroke-width="2.1"/>
<line x1="1235.80" y1="838.98" x2="1243.20" y2="838.98" stroke="#000" stroke-width="2.1"/>
<line x1="790.80" y1="824.15" x2="798.20" y2="824.15" stroke="#000" stroke-width="2.1"/>
<line x1="1235.80" y1="824.15" x2="1243.20" y2="824.15" stroke="#000" stroke-width="2.1"/>
<line x1="790.80" y1="809.31" x2="798.20" y2="809.31" stroke="#000" stroke-width="2.1"/>
<line x1="1235.80" y1="809.31" x2="1243.20" y2="809.31" stroke="#000" stroke-width="2.1"/>
<line x1="790.80" y1="794.48" x2="798.20" y2="794.48" stroke="#000" stroke-width="2.1"/>
<line x1="1235.80" y1="794.48" x2="1243.20" y2="794.48" stroke="#000" stroke-width="2.1"/>
<line x1="784.20" y1="779.64" x2="798.20" y2="779.64" stroke="#000" stroke-width="2.1"/>
<line x1="1235.80" y1="779.64" x2="1249.80" y2="779.64" stroke="#000" stroke-width="2.1"/>
<line x1="790.80" y1="764.80" x2="798.20" y2="764.80" stroke="#000" stroke-width="2.1"/>
<line x1="1235.80" y1="764.80" x2="1243.20" y2="764.80" stroke="#000" stroke-width="2.1"/>
<line x1="790.80" y1="749.97" x2="798.20" y2="749.97" stroke="#000" stroke-width="2.1"/>
<line x1="1235.80" y1="749.97" x2="1243.20" y2="749.97" stroke="#000" stroke-width="2.1"/>
<line x1="790.80" y1="735.13" x2="798.20" y2="735.13" stroke="#000" stroke-width="2.1"/>
<line x1="1235.80" y1="735.13" x2="1243.20" y2="735.13" stroke="#000" stroke-width="2.1"/>
<line x1="790.80" y1="720.30" x2="798.20" y2="720.30" stroke="#000" stroke-width="2.1"/>
<line x1="1235.80" y1="720.30" x2="1243.20" y2="720.30" stroke="#000" stroke-width="2.1"/>
<line x1="784.20" y1="705.46" x2="798.20" y2="705.46" stroke="#000" stroke-width="2.1"/>
<line x1="1235.80" y1="705.46" x2="1249.80" y2="705.46" stroke="#000" stroke-width="2.1"/>
<line x1="790.80" y1="690.62" x2="798.20" y2="690.62" stroke="#000" stroke-width="2.1"/>
<line x1="1235.80" y1="690.62" x2="1243.20" y2="690.62" stroke="#000" stroke-width="2.1"/>
<line x1="790.80" y1="675.79" x2="798.20" y2="675.79" stroke="#000" stroke-width="2.1"/>
<line x1="1235.80" y1="675.79" x2="1243.20" y2="675.79" stroke="#000" stroke-width="2.1"/>
<line x1="790.80" y1="660.95" x2="798.20" y2="660.95" stroke="#000" stroke-width="2.1"/>
<line x1="1235.80" y1="660.95" x2="1243.20" y2="660.95" stroke="#000" stroke-width="2.1"/>
<line x1="790.80" y1="646.12" x2="798.20" y2="646.12" stroke="#000" stroke-width="2.1"/>
<line x1="1235.80" y1="646.12" x2="1243.20" y2="646.12" stroke="#000" stroke-width="2.1"/>
<line x1="784.20" y1="631.28" x2="798.20" y2="631.28" stroke="#000" stroke-width="2.1"/>
<line x1="1235.80" y1="631.28" x2="1249.80" y2="631.28" stroke="#000" stroke-width="2.1"/>
<line x1="790.80" y1="616.44" x2="798.20" y2="616.44" stroke="#000" stroke-width="2.1"/>
<line x1="1235.80" y1="616.44" x2="1243.20" y2="616.44" stroke="#000" stroke-width="2.1"/>
<line x1="790.80" y1="601.61" x2="798.20" y2="601.61" stroke="#000" stroke-width="2.1"/>
<line x1="1235.80" y1="601.61" x2="1243.20" y2="601.61" stroke="#000" stroke-width="2.1"/>
<line x1="790.80" y1="586.77" x2="798.20" y2="586.77" stroke="#000" stroke-width="2.1"/>
<line x1="1235.80" y1="586.77" x2="1243.20" y2="586.77" stroke="#000" stroke-width="2.1"/>
<line x1="790.80" y1="571.94" x2="798.20" y2="571.94" stroke="#000" stroke-width="2.1"/>
<line x1="1235.80" y1="571.94" x2="1243.20" y2="571.94" stroke="#000" stroke-width="2.1"/>
<line x1="784.20" y1="557.10" x2="798.20" y2="557.10" stroke="#000" stroke-width="2.1"/>
<line x1="1235.80" y1="557.10" x2="1249.80" y2="557.10" stroke="#000" stroke-width="2.1"/>
<line x1="798.20" y1="928.00" x2="798.20" y2="942.00" stroke="#000" stroke-width="2.1"/>
<line x1="820.08" y1="928.00" x2="820.08" y2="935.40" stroke="#000" stroke-width="2.1"/>
<line x1="841.96" y1="928.00" x2="841.96" y2="935.40" stroke="#000" stroke-width="2.1"/>
<line x1="863.84" y1="928.00" x2="863.84" y2="935.40" stroke="#000" stroke-width="2.1"/>
<line x1="885.72" y1="928.00" x2="885.72" y2="935.40" stroke="#000" stroke-width="2.1"/>
<line x1="907.60" y1="928.00" x2="907.60" y2="942.00" stroke="#000" stroke-width="2.1"/>
<line x1="929.48" y1="928.00" x2="929.48" y2="935.40" stroke="#000" stroke-width="2.1"/>
<line x1="951.36" y1="928.00" x2="951.36" y2="935.40" stroke="#000" stroke-width="2.1"/>
<line x1="973.24" y1="928.00" x2="973.24" y2="935.40" stroke="#000" stroke-width="2.1"/>
<line x1="995.12" y1="928.00" x2="995.12" y2="935.40" stroke="#000" stroke-width="2.1"/>
<line x1="1017.00" y1="928.00" x2="1017.00" y2="942.00" stroke="#000" stroke-width="2.1"/>
<line x1="1038.88" y1="928.00" x2="1038.88" y2="935.40" stroke="#000" stroke-width="2.1"/>
<line x1="1060.76" y1="928.00" x2="1060.76" y2="935.40" stroke="#000" stroke-width="2.1"/>
<line x1="1082.64" y1="928.00" x2="1082.64" y2="935.40" stroke="#000" stroke-width="2.1"/>
<line x1="1104.52" y1="928.00" x2="1104.52" y2="935.40" stroke="#000" stroke-width="2.1"/>
<line x1="1126.40" y1="928.00" x2="1126.40" y2="942.00" stroke="#000" stroke-width="2.1"/>
<line x1="1148.28" y1="928.00" x2="1148.28" y2="935.40" stroke="#000" stroke-width="2.1"/>
<line x1="1170.16" y1="928.00" x2="1170.16" y2="935.40" stroke="#000" stroke-width="2.1"/>
<line x1="1192.04" y1="928.00" x2="1192.04" y2="935.40" stroke="#000" stroke-width="2.1"/>
<line x1="1213.92" y1="928.00" x2="1213.92" y2="935.40" stroke="#000" stroke-width="2.1"/>
<line x1="1235.80" y1="928.00" x2="1235.80" y2="942.00" stroke="#000" stroke-width="2.1"/>
<text x="777.30" y="565.40" font-size="26.35" text-anchor="end" fill="#000" stroke="#000" stroke-width="0.25" >10</text>
<text x="777.30" y="639.58" font-size="26.35" text-anchor="end" fill="#000" stroke="#000" stroke-width="0.25" >5</text>
<text x="777.30" y="713.76" font-size="26.35" text-anchor="end" fill="#000" stroke="#000" stroke-width="0.25" >0</text>
<text x="777.30" y="787.94" font-size="26.35" text-anchor="end" fill="#000" stroke="#000" stroke-width="0.25" >–5</text>
<text x="777.30" y="862.12" font-size="26.35" text-anchor="end" fill="#000" stroke="#000" stroke-width="0.25" >–10</text>
<text x="777.30" y="936.30" font-size="26.35" text-anchor="end" fill="#000" stroke="#000" stroke-width="0.25" >–15</text>
<text x="1259.40" y="566.00" font-size="26.35" text-anchor="start" fill="#000" stroke="#000" stroke-width="0.25" >–71</text>
<text x="1259.40" y="640.18" font-size="26.35" text-anchor="start" fill="#000" stroke="#000" stroke-width="0.25" >–36</text>
<text x="1259.40" y="714.36" font-size="26.35" text-anchor="start" fill="#000" stroke="#000" stroke-width="0.25" >0</text>
<text x="1259.40" y="788.54" font-size="26.35" text-anchor="start" fill="#000" stroke="#000" stroke-width="0.25" >38</text>
<text x="1259.40" y="862.72" font-size="26.35" text-anchor="start" fill="#000" stroke="#000" stroke-width="0.25" >78</text>
<text x="1259.40" y="936.90" font-size="26.35" text-anchor="start" fill="#000" stroke="#000" stroke-width="0.25" >121</text>
<text x="798.20" y="970.80" font-size="26.35" text-anchor="middle" fill="#000" stroke="#000" stroke-width="0.25" >0</text>
<text x="907.60" y="970.80" font-size="26.35" text-anchor="middle" fill="#000" stroke="#000" stroke-width="0.25" >150</text>
<text x="1017.00" y="970.80" font-size="26.35" text-anchor="middle" fill="#000" stroke="#000" stroke-width="0.25" >300</text>
<text x="1126.40" y="970.80" font-size="26.35" text-anchor="middle" fill="#000" stroke="#000" stroke-width="0.25" >450</text>
<text x="1235.80" y="970.80" font-size="26.35" text-anchor="middle" fill="#000" stroke="#000" stroke-width="0.25" >600</text>
<text x="910.20" y="1006.60" font-size="26.35" text-anchor="start" fill="#000" stroke="#000" stroke-width="0.25" >Intensity (GW cm<tspan font-size="15.8" dy="-8.8">–2</tspan><tspan dy="8.8">)</tspan></text>
<text transform="translate(715.80,869.60) rotate(-90)" font-size="26.35" stroke="#000" stroke-width="0.25">Frequency shift (THz)</text>
<text transform="translate(1326.90,616.40) rotate(90)" font-size="26.35" stroke="#000" stroke-width="0.25">Wavelength shift (nm)</text>
<text x="814.00" y="593.00" font-size="26.35" stroke="#000" stroke-width="0.25"><tspan font-family='"Liberation Serif", serif' font-style="italic" font-size="34" stroke-width="0">λ</tspan><tspan font-size="18.2" dy="6.6" dx="-0.5">0</tspan><tspan dy="-6.6" dx="0.6">=1495 nm</tspan></text>
<polyline points="841.5,699.7 884.4,691.6 927.6,687.6 970.8,677.5 1014.0,663.2 1057.2,654.8 1100.2,651.1 1143.4,644.9 1186.6,640.2 1229.6,634.1" fill="none" stroke="#0072bd" stroke-width="2.2" stroke-linejoin="round"/>
<rect x="837.10" y="695.30" width="8.8" height="8.8" rx="0.9" fill="#0072bd"/>
<rect x="880.00" y="687.20" width="8.8" height="8.8" rx="0.9" fill="#0072bd"/>
<rect x="923.20" y="683.20" width="8.8" height="8.8" rx="0.9" fill="#0072bd"/>
<rect x="966.40" y="673.10" width="8.8" height="8.8" rx="0.9" fill="#0072bd"/>
<rect x="1009.60" y="658.80" width="8.8" height="8.8" rx="0.9" fill="#0072bd"/>
<rect x="1052.80" y="650.40" width="8.8" height="8.8" rx="0.9" fill="#0072bd"/>
<rect x="1095.80" y="646.70" width="8.8" height="8.8" rx="0.9" fill="#0072bd"/>
<rect x="1139.00" y="640.50" width="8.8" height="8.8" rx="0.9" fill="#0072bd"/>
<rect x="1182.20" y="635.80" width="8.8" height="8.8" rx="0.9" fill="#0072bd"/>
<rect x="1225.20" y="629.70" width="8.8" height="8.8" rx="0.9" fill="#0072bd"/>
<polyline points="841.5,713.8 884.4,721.4 927.6,729.3 970.8,739.2 1014.0,744.9 1057.2,750.8 1100.2,756.5 1143.4,766.1 1186.6,777.5 1229.6,786.9" fill="none" stroke="#d95319" stroke-width="2.2" stroke-linejoin="round"/>
<circle cx="841.50" cy="713.80" r="4.5" fill="#d95319"/>
<circle cx="884.40" cy="721.40" r="4.5" fill="#d95319"/>
<circle cx="927.60" cy="729.30" r="4.5" fill="#d95319"/>
<circle cx="970.80" cy="739.20" r="4.5" fill="#d95319"/>
<circle cx="1014.00" cy="744.90" r="4.5" fill="#d95319"/>
<circle cx="1057.20" cy="750.80" r="4.5" fill="#d95319"/>
<circle cx="1100.20" cy="756.50" r="4.5" fill="#d95319"/>
<circle cx="1143.40" cy="766.10" r="4.5" fill="#d95319"/>
<circle cx="1186.60" cy="777.50" r="4.5" fill="#d95319"/>
<circle cx="1229.60" cy="786.90" r="4.5" fill="#d95319"/>
<text x="273.20" y="105.80" font-size="26.35" text-anchor="start" fill="#0072bd" stroke="#0072bd" stroke-width="0.25" >Blueshift</text>
<text x="276.10" y="307.60" font-size="26.35" text-anchor="start" fill="#d95319" stroke="#d95319" stroke-width="0.25" >Redshift</text>
<line x1="378.80" y1="105.70" x2="397.40" y2="125.30" stroke="#0072bd" stroke-width="2.2"/>
<line x1="380.90" y1="295.10" x2="402.70" y2="277.40" stroke="#d95319" stroke-width="2.2"/>
<text x="-1.2" y="30.8" font-size="42" font-weight="bold">a</text>
<text x="694.0" y="30.1" font-size="42" font-weight="bold">b</text>
<text x="1391.5" y="29.8" font-size="42" font-weight="bold">c</text>
<text x="-1.0" y="559.0" font-size="42" font-weight="bold">d</text>
<text x="695.6" y="559.2" font-size="42" font-weight="bold">e</text>
<text x="1393.0" y="559.6" font-size="42" font-weight="bold">f</text>
<rect x="1498.90" y="625.20" width="437.70" height="273.40" fill="none" stroke="#000" stroke-width="2.1"/>
<line x1="1484.90" y1="898.60" x2="1498.90" y2="898.60" stroke="#000" stroke-width="2.1"/>
<line x1="1491.50" y1="881.51" x2="1498.90" y2="881.51" stroke="#000" stroke-width="2.1"/>
<line x1="1491.50" y1="864.43" x2="1498.90" y2="864.43" stroke="#000" stroke-width="2.1"/>
<line x1="1491.50" y1="847.34" x2="1498.90" y2="847.34" stroke="#000" stroke-width="2.1"/>
<line x1="1484.90" y1="830.25" x2="1498.90" y2="830.25" stroke="#000" stroke-width="2.1"/>
<line x1="1491.50" y1="813.16" x2="1498.90" y2="813.16" stroke="#000" stroke-width="2.1"/>
<line x1="1491.50" y1="796.08" x2="1498.90" y2="796.08" stroke="#000" stroke-width="2.1"/>
<line x1="1491.50" y1="778.99" x2="1498.90" y2="778.99" stroke="#000" stroke-width="2.1"/>
<line x1="1484.90" y1="761.90" x2="1498.90" y2="761.90" stroke="#000" stroke-width="2.1"/>
<line x1="1491.50" y1="744.81" x2="1498.90" y2="744.81" stroke="#000" stroke-width="2.1"/>
<line x1="1491.50" y1="727.73" x2="1498.90" y2="727.73" stroke="#000" stroke-width="2.1"/>
<line x1="1491.50" y1="710.64" x2="1498.90" y2="710.64" stroke="#000" stroke-width="2.1"/>
<line x1="1484.90" y1="693.55" x2="1498.90" y2="693.55" stroke="#000" stroke-width="2.1"/>
<line x1="1491.50" y1="676.46" x2="1498.90" y2="676.46" stroke="#000" stroke-width="2.1"/>
<line x1="1491.50" y1="659.38" x2="1498.90" y2="659.38" stroke="#000" stroke-width="2.1"/>
<line x1="1491.50" y1="642.29" x2="1498.90" y2="642.29" stroke="#000" stroke-width="2.1"/>
<line x1="1484.90" y1="625.20" x2="1498.90" y2="625.20" stroke="#000" stroke-width="2.1"/>
<line x1="1498.90" y1="898.60" x2="1498.90" y2="912.60" stroke="#000" stroke-width="2.1"/>
<line x1="1498.90" y1="625.20" x2="1498.90" y2="611.20" stroke="#000" stroke-width="2.1"/>
<line x1="1517.14" y1="898.60" x2="1517.14" y2="906.00" stroke="#000" stroke-width="2.1"/>
<line x1="1517.14" y1="625.20" x2="1517.14" y2="617.80" stroke="#000" stroke-width="2.1"/>
<line x1="1535.38" y1="898.60" x2="1535.38" y2="906.00" stroke="#000" stroke-width="2.1"/>
<line x1="1535.38" y1="625.20" x2="1535.38" y2="617.80" stroke="#000" stroke-width="2.1"/>
<line x1="1553.61" y1="898.60" x2="1553.61" y2="906.00" stroke="#000" stroke-width="2.1"/>
<line x1="1553.61" y1="625.20" x2="1553.61" y2="617.80" stroke="#000" stroke-width="2.1"/>
<line x1="1571.85" y1="898.60" x2="1571.85" y2="906.00" stroke="#000" stroke-width="2.1"/>
<line x1="1571.85" y1="625.20" x2="1571.85" y2="617.80" stroke="#000" stroke-width="2.1"/>
<line x1="1590.09" y1="898.60" x2="1590.09" y2="906.00" stroke="#000" stroke-width="2.1"/>
<line x1="1590.09" y1="625.20" x2="1590.09" y2="617.80" stroke="#000" stroke-width="2.1"/>
<line x1="1608.33" y1="898.60" x2="1608.33" y2="912.60" stroke="#000" stroke-width="2.1"/>
<line x1="1608.33" y1="625.20" x2="1608.33" y2="611.20" stroke="#000" stroke-width="2.1"/>
<line x1="1626.56" y1="898.60" x2="1626.56" y2="906.00" stroke="#000" stroke-width="2.1"/>
<line x1="1626.56" y1="625.20" x2="1626.56" y2="617.80" stroke="#000" stroke-width="2.1"/>
<line x1="1644.80" y1="898.60" x2="1644.80" y2="906.00" stroke="#000" stroke-width="2.1"/>
<line x1="1644.80" y1="625.20" x2="1644.80" y2="617.80" stroke="#000" stroke-width="2.1"/>
<line x1="1663.04" y1="898.60" x2="1663.04" y2="906.00" stroke="#000" stroke-width="2.1"/>
<line x1="1663.04" y1="625.20" x2="1663.04" y2="617.80" stroke="#000" stroke-width="2.1"/>
<line x1="1681.28" y1="898.60" x2="1681.28" y2="906.00" stroke="#000" stroke-width="2.1"/>
<line x1="1681.28" y1="625.20" x2="1681.28" y2="617.80" stroke="#000" stroke-width="2.1"/>
<line x1="1699.51" y1="898.60" x2="1699.51" y2="906.00" stroke="#000" stroke-width="2.1"/>
<line x1="1699.51" y1="625.20" x2="1699.51" y2="617.80" stroke="#000" stroke-width="2.1"/>
<line x1="1717.75" y1="898.60" x2="1717.75" y2="912.60" stroke="#000" stroke-width="2.1"/>
<line x1="1717.75" y1="625.20" x2="1717.75" y2="611.20" stroke="#000" stroke-width="2.1"/>
<line x1="1735.99" y1="898.60" x2="1735.99" y2="906.00" stroke="#000" stroke-width="2.1"/>
<line x1="1735.99" y1="625.20" x2="1735.99" y2="617.80" stroke="#000" stroke-width="2.1"/>
<line x1="1754.22" y1="898.60" x2="1754.22" y2="906.00" stroke="#000" stroke-width="2.1"/>
<line x1="1754.22" y1="625.20" x2="1754.22" y2="617.80" stroke="#000" stroke-width="2.1"/>
<line x1="1772.46" y1="898.60" x2="1772.46" y2="906.00" stroke="#000" stroke-width="2.1"/>
<line x1="1772.46" y1="625.20" x2="1772.46" y2="617.80" stroke="#000" stroke-width="2.1"/>
<line x1="1790.70" y1="898.60" x2="1790.70" y2="906.00" stroke="#000" stroke-width="2.1"/>
<line x1="1790.70" y1="625.20" x2="1790.70" y2="617.80" stroke="#000" stroke-width="2.1"/>
<line x1="1808.94" y1="898.60" x2="1808.94" y2="906.00" stroke="#000" stroke-width="2.1"/>
<line x1="1808.94" y1="625.20" x2="1808.94" y2="617.80" stroke="#000" stroke-width="2.1"/>
<line x1="1827.17" y1="898.60" x2="1827.17" y2="912.60" stroke="#000" stroke-width="2.1"/>
<line x1="1827.17" y1="625.20" x2="1827.17" y2="611.20" stroke="#000" stroke-width="2.1"/>
<line x1="1845.41" y1="898.60" x2="1845.41" y2="906.00" stroke="#000" stroke-width="2.1"/>
<line x1="1845.41" y1="625.20" x2="1845.41" y2="617.80" stroke="#000" stroke-width="2.1"/>
<line x1="1863.65" y1="898.60" x2="1863.65" y2="906.00" stroke="#000" stroke-width="2.1"/>
<line x1="1863.65" y1="625.20" x2="1863.65" y2="617.80" stroke="#000" stroke-width="2.1"/>
<line x1="1881.89" y1="898.60" x2="1881.89" y2="906.00" stroke="#000" stroke-width="2.1"/>
<line x1="1881.89" y1="625.20" x2="1881.89" y2="617.80" stroke="#000" stroke-width="2.1"/>
<line x1="1900.12" y1="898.60" x2="1900.12" y2="906.00" stroke="#000" stroke-width="2.1"/>
<line x1="1900.12" y1="625.20" x2="1900.12" y2="617.80" stroke="#000" stroke-width="2.1"/>
<line x1="1918.36" y1="898.60" x2="1918.36" y2="906.00" stroke="#000" stroke-width="2.1"/>
<line x1="1918.36" y1="625.20" x2="1918.36" y2="617.80" stroke="#000" stroke-width="2.1"/>
<line x1="1936.60" y1="898.60" x2="1936.60" y2="912.60" stroke="#000" stroke-width="2.1"/>
<line x1="1936.60" y1="625.20" x2="1936.60" y2="611.20" stroke="#000" stroke-width="2.1"/>
<text x="1475.60" y="908.70" font-size="26.35" text-anchor="end" fill="#000" stroke="#000" stroke-width="0.25" >0</text>
<text x="1475.60" y="840.35" font-size="26.35" text-anchor="end" fill="#000" stroke="#000" stroke-width="0.25" >2</text>
<text x="1475.60" y="772.00" font-size="26.35" text-anchor="end" fill="#000" stroke="#000" stroke-width="0.25" >4</text>
<text x="1475.60" y="703.65" font-size="26.35" text-anchor="end" fill="#000" stroke="#000" stroke-width="0.25" >6</text>
<text x="1475.60" y="635.30" font-size="26.35" text-anchor="end" fill="#000" stroke="#000" stroke-width="0.25" >8</text>
<text x="1497.90" y="940.80" font-size="26.35" text-anchor="middle" fill="#000" stroke="#000" stroke-width="0.25" >190</text>
<text x="1607.33" y="940.80" font-size="26.35" text-anchor="middle" fill="#000" stroke="#000" stroke-width="0.25" >220</text>
<text x="1716.75" y="940.80" font-size="26.35" text-anchor="middle" fill="#000" stroke="#000" stroke-width="0.25" >250</text>
<text x="1826.17" y="940.80" font-size="26.35" text-anchor="middle" fill="#000" stroke="#000" stroke-width="0.25" >280</text>
<text x="1935.60" y="940.80" font-size="26.35" text-anchor="middle" fill="#000" stroke="#000" stroke-width="0.25" >310</text>
<text x="1496.60" y="603.30" font-size="26.35" text-anchor="middle" fill="#000" stroke="#000" stroke-width="0.25" >–2.3</text>
<text x="1606.03" y="603.30" font-size="26.35" text-anchor="middle" fill="#000" stroke="#000" stroke-width="0.25" >–0.8</text>
<text x="1717.95" y="603.30" font-size="26.35" text-anchor="middle" fill="#000" stroke="#000" stroke-width="0.25" >0.3</text>
<text x="1827.38" y="603.30" font-size="26.35" text-anchor="middle" fill="#000" stroke="#000" stroke-width="0.25" >1.0</text>
<text x="1936.80" y="603.30" font-size="26.35" text-anchor="middle" fill="#000" stroke="#000" stroke-width="0.25" >1.5</text>
<text x="1507.00" y="564.60" font-size="26.35" text-anchor="start" fill="#000" stroke="#000" stroke-width="0.25" >Real part of linear permittivity Re(<tspan font-family='"Liberation Serif", serif' font-style="italic" font-size="30">ε</tspan>)</text>
<text x="1559.60" y="978.40" font-size="26.45" text-anchor="start" fill="#000" stroke="#000" stroke-width="0.25" >Central frequency <tspan font-style="italic" font-size="30.5">f</tspan><tspan font-size="18.2" dy="6.6" dx="-1">0</tspan><tspan dy="-6.6" dx="1"> (THz)</tspan></text>
<text transform="translate(1430.60,822.00) rotate(-90)" font-size="26.45" stroke="#000" stroke-width="0.25"><tspan font-family='"Liberation Serif", serif' font-size="33">Δ</tspan><tspan font-style="italic" font-size="30.5" dx="1">f /</tspan><tspan font-style="italic" font-size="30.5" dx="-2"> f</tspan><tspan font-size="18.2" dy="6.6" dx="-1">0</tspan><tspan dy="-6.6" dx="-0.5"> (%)</tspan></text>
<polyline points="1537.9,723.4 1588.2,724.8 1644.3,718.7 1691.8,689.1 1730.2,681.4 1802.4,727.2 1838.0,723.9 1903.3,740.0" fill="none" stroke="#000" stroke-width="1.8" stroke-linejoin="round"/>
<rect x="1533.50" y="719.00" width="8.8" height="8.8" rx="0" fill="#000"/>
<rect x="1583.80" y="720.40" width="8.8" height="8.8" rx="0" fill="#000"/>
<rect x="1639.90" y="714.30" width="8.8" height="8.8" rx="0" fill="#000"/>
<rect x="1687.40" y="684.70" width="8.8" height="8.8" rx="0" fill="#000"/>
<rect x="1725.80" y="677.00" width="8.8" height="8.8" rx="0" fill="#000"/>
<rect x="1798.00" y="722.80" width="8.8" height="8.8" rx="0" fill="#000"/>
<rect x="1833.60" y="719.50" width="8.8" height="8.8" rx="0" fill="#000"/>
<rect x="1898.90" y="735.60" width="8.8" height="8.8" rx="0" fill="#000"/>
<polyline points="1537.9,816.2 1588.2,806.0 1644.3,784.7 1691.8,750.2 1730.2,752.4 1802.4,807.7 1838.0,813.8 1903.3,824.8" fill="none" stroke="#d95319" stroke-width="1.8" stroke-linejoin="round"/>
<circle cx="1537.90" cy="816.20" r="4.4" fill="#d95319"/>
<circle cx="1588.20" cy="806.00" r="4.4" fill="#d95319"/>
<circle cx="1644.30" cy="784.70" r="4.4" fill="#d95319"/>
<circle cx="1691.80" cy="750.20" r="4.4" fill="#d95319"/>
<circle cx="1730.20" cy="752.40" r="4.4" fill="#d95319"/>
<circle cx="1802.40" cy="807.70" r="4.4" fill="#d95319"/>
<circle cx="1838.00" cy="813.80" r="4.4" fill="#d95319"/>
<circle cx="1903.30" cy="824.80" r="4.4" fill="#d95319"/>
<line x1="1778.60" y1="668.90" x2="1759.00" y2="691.90" stroke="#000" stroke-width="1.8"/>
<line x1="1788.30" y1="809.60" x2="1778.60" y2="837.50" stroke="#d95319" stroke-width="1.8"/>
<text x="1546.80" y="658.80" font-size="26.45" text-anchor="start" fill="#000" stroke="#000" stroke-width="0.25" >Total shift at the maximum <tspan font-style="italic">I</tspan><tspan font-size="18.7" dy="6.6" dx="-1.4">pump</tspan></text>
<text x="1563.80" y="864.60" font-size="26.45" text-anchor="start" fill="#d95319" stroke="#d95319" stroke-width="0.25" >Redshift at <tspan font-style="italic">I</tspan><tspan font-size="18.7" dy="6.6" dx="-1.4">pump</tspan><tspan dy="-6.6">≈450 GW cm</tspan><tspan font-size="15" dy="-8">-2</tspan></text>
</svg>
</body></html>
